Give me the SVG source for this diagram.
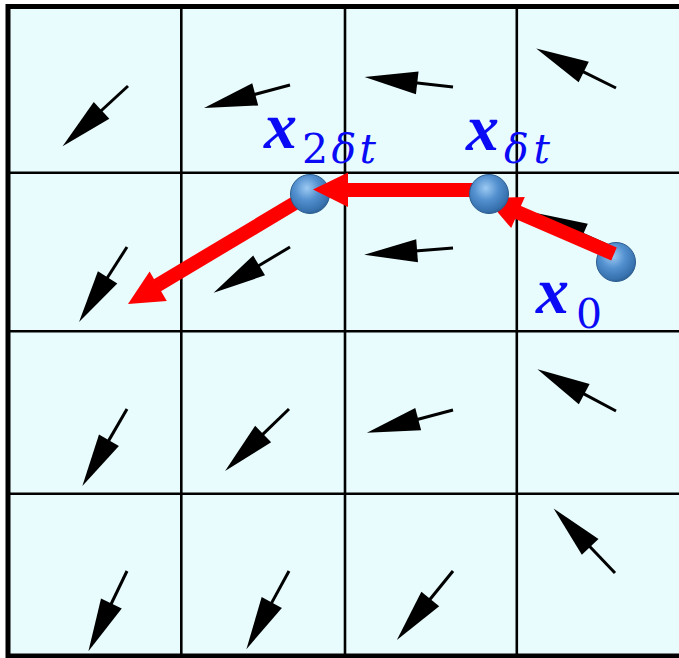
<svg xmlns="http://www.w3.org/2000/svg" xmlns:xlink="http://www.w3.org/1999/xlink" width="679" height="658" viewBox="0 0 679 658">
  <style>
    .grid { stroke: #000; stroke-width: 2.6; fill: none; }
    .outer { stroke: #000; stroke-width: 5; fill: #e8fcfd; }
    .vec { fill: #000; }
    .red { stroke: #ff0000; stroke-width: 14; fill: none; }
    .redhead { fill: #ff0000; }
    .ball { fill: url(#ballGrad); stroke: #2c5d8f; stroke-width: 1; }
    .lbl { font-family: "Liberation Serif", "Times New Roman", serif; fill: #0a0af5; }
    .xb { font-weight: bold; font-style: italic; font-size: 66px; }
    .sub { font-family: "DejaVu Serif", "Liberation Serif", serif; font-size: 41px; }
    .it { font-style: italic; }
  </style>
  <defs>
    <radialGradient id="ballGrad" cx="0.42" cy="0.35" r="0.7">
      <stop offset="0" stop-color="#9ccaf2"/>
      <stop offset="0.45" stop-color="#5390cf"/>
      <stop offset="0.85" stop-color="#3670ad"/>
      <stop offset="1" stop-color="#285887"/>
    </radialGradient>
    <g id="vec">
      <rect x="0" y="-1.5" width="38" height="3" class="vec"/>
      <polygon points="36,-11.5 36,11.5 89,0" class="vec"/>
    </g>
  </defs>

  <rect x="0" y="0" width="679" height="658" fill="#ffffff"/>
  <rect x="8" y="6.5" width="680" height="649.5" class="outer"/>

  <g id="grid">
    <line x1="181.3" y1="6.5" x2="181.3" y2="656" class="grid"/>
    <line x1="345" y1="6.5" x2="345" y2="656" class="grid"/>
    <line x1="516.8" y1="6.5" x2="516.8" y2="656" class="grid"/>
    <line x1="8" y1="172.7" x2="679" y2="172.7" class="grid"/>
    <line x1="8" y1="331.3" x2="679" y2="331.3" class="grid"/>
    <line x1="8" y1="493.8" x2="679" y2="493.8" class="grid"/>
  </g>

  <g id="field">
    <use xlink:href="#vec" transform="translate(128,86) rotate(137.3)"/>
    <use xlink:href="#vec" transform="translate(290,85) rotate(165)"/>
    <use xlink:href="#vec" transform="translate(453,87) rotate(186.5)"/>
    <use xlink:href="#vec" transform="translate(616,88) rotate(206.3)"/>
    <use xlink:href="#vec" transform="translate(127,247) rotate(122.6)"/>
    <use xlink:href="#vec" transform="translate(290,247) rotate(149.1)"/>
    <use xlink:href="#vec" transform="translate(453,248) rotate(175.6)"/>
    <use xlink:href="#vec" transform="translate(616,249) rotate(204)"/>
    <use xlink:href="#vec" transform="translate(127,409) rotate(120.1)"/>
    <use xlink:href="#vec" transform="translate(289,409) rotate(135.9)"/>
    <use xlink:href="#vec" transform="translate(453,410) rotate(165.2)"/>
    <use xlink:href="#vec" transform="translate(616,411) rotate(208)"/>
    <use xlink:href="#vec" transform="translate(127,571) rotate(115.7)"/>
    <use xlink:href="#vec" transform="translate(289,571) rotate(118.6)"/>
    <use xlink:href="#vec" transform="translate(453,571) rotate(129.1)"/>
    <use xlink:href="#vec" transform="translate(615,573) rotate(226.4)"/>
  </g>

  <g id="node-x0">
    <circle cx="616" cy="262" r="19.5" class="ball"/>
    <text class="lbl" y="313"><tspan x="536" class="xb">x</tspan><tspan x="576" y="328" class="sub">0</tspan></text>
  </g>

  <g id="connectors">
    <g id="step1">
      <line x1="614" y1="254" x2="516" y2="211.5" class="red"/>
      <polygon points="486,198.5 524.8,196.9 511.2,228.1" class="redhead"/>
    </g>
    <g id="step3">
      <line x1="305" y1="197" x2="157" y2="285.5" class="red"/>
      <polygon points="128,304 166.8,301 149.6,271.6" class="redhead"/>
    </g>
  </g>

  <g id="node-x2dt">
    <circle cx="310" cy="194" r="19.5" class="ball"/>
    <text class="lbl" y="148"><tspan x="264" class="xb">x</tspan><tspan x="302" y="163" class="sub" textLength="74" lengthAdjust="spacing">2<tspan class="it">δt</tspan></tspan></text>
  </g>

  <g id="connectors2">
    <g id="step2">
      <line x1="485" y1="190" x2="346" y2="190" class="red"/>
      <polygon points="313,189.5 348,172.5 348,207" class="redhead"/>
    </g>
  </g>

  <g id="node-xdt">
    <circle cx="489" cy="194" r="19.5" class="ball"/>
    <text class="lbl" y="150"><tspan x="466" class="xb">x</tspan><tspan x="504" y="163" class="sub it" textLength="46" lengthAdjust="spacing">δt</tspan></text>
  </g>
</svg>
